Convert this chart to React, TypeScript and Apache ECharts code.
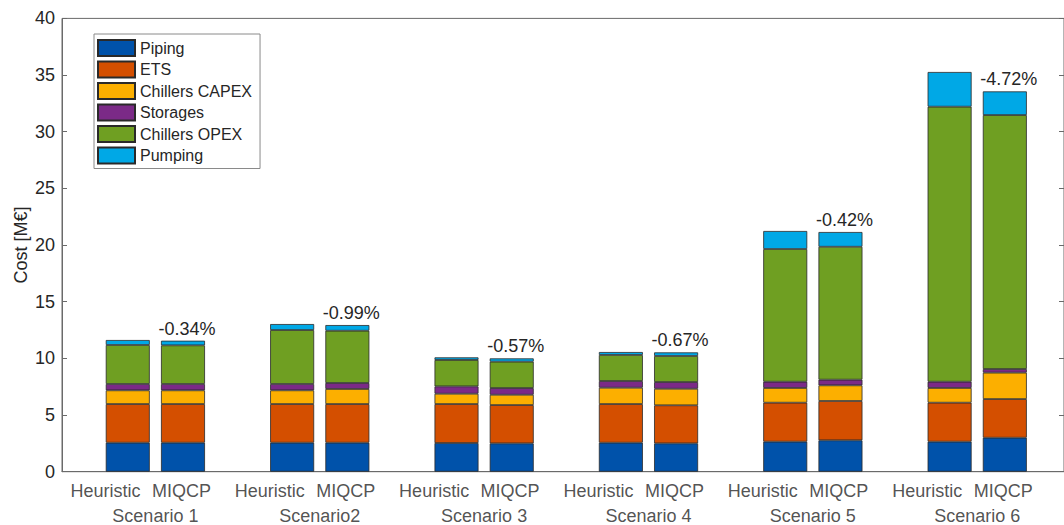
import React, { useEffect, useRef } from 'react';
import * as echarts from 'echarts';

// ---- data ----
const scenarios = ['Scenario 1', 'Scenario2', 'Scenario 3', 'Scenario 4', 'Scenario 5', 'Scenario 6'];
const methods = ['Heuristic', 'MIQCP'];
const components = ['Piping', 'ETS', 'Chillers CAPEX', 'Storages', 'Chillers OPEX', 'Pumping'];

// Heuristic values per scenario [M€]
const pipingH = [2.56, 2.56, 2.53, 2.56, 2.65, 2.65];
const etsH = [3.41, 3.41, 3.44, 3.41, 3.44, 3.44];
const capexH = [1.21, 1.21, 0.91, 1.44, 1.30, 1.30];
const storagesH = [0.56, 0.56, 0.65, 0.59, 0.55, 0.55];
const opexH = [3.44, 4.76, 2.33, 2.30, 11.71, 24.27];
const pumpingH = [0.44, 0.53, 0.23, 0.26, 1.59, 3.06];

// MIQCP values per scenario [M€]
const pipingM = [2.56, 2.56, 2.50, 2.50, 2.77, 3.00];
const etsM = [3.41, 3.41, 3.38, 3.36, 3.47, 3.41];
const capexM = [1.21, 1.33, 0.91, 1.46, 1.38, 2.33];
const storagesM = [0.56, 0.53, 0.59, 0.59, 0.50, 0.32];
const opexM = [3.41, 4.61, 2.33, 2.30, 11.73, 22.41];
const pumpingM = [0.41, 0.50, 0.29, 0.32, 1.30, 2.09];

const diffLabels = ['-0.34%', '-0.99%', '-0.57%', '-0.67%', '-0.42%', '-4.72%'];

const yMin = 0;
const yMax = 40;
const yInterval = 5;

// ---- style ----
const colors = ['#0052AA', '#D44F00', '#FCAF00', '#7B2A87', '#6F9F22', '#00A8E6'];
const FONT = 'Liberation Sans, Arial, Helvetica, sans-serif';
const TEXT = '#262626';
const AXIS = '#6a6a6a';
const HEUR_LABEL_DX = -50; // px from group centre
const MIQCP_LABEL_DX = 26;

export default function App() {
  const ref = useRef<HTMLDivElement>(null);

  useEffect(() => {
    if (!ref.current) return;
    const chart = echarts.init(ref.current, undefined, { renderer: 'svg' });

    const hVals = [pipingH, etsH, capexH, storagesH, opexH, pumpingH];
    const mVals = [pipingM, etsM, capexM, storagesM, opexM, pumpingM];

    const mkBar = (name: string, k: number, vals: number[], stack: string, withLabels: boolean) => ({
      name,
      type: 'bar',
      stack,
      xAxisIndex: 1,
      yAxisIndex: 2,
      barWidth: 44,
      barGap: '25.5%',
      data: vals.map((v, i) =>
        withLabels
          ? {
              value: v,
              label: {
                show: true,
                position: 'top',
                distance: 3,
                offset: [4, 0],
                formatter: diffLabels[i],
                fontSize: 18,
                fontFamily: FONT,
                color: TEXT,
              },
            }
          : v
      ),
      itemStyle: { color: colors[k], borderColor: '#2a2a2a', borderWidth: 0.8 },
      emphasis: { disabled: true },
    });

    const barSeries: any[] = [];
    components.forEach((name, k) => barSeries.push(mkBar(name, k, hVals[k], 'heuristic', false)));
    components.forEach((name, k) =>
      barSeries.push(mkBar(name, k, mVals[k], 'miqcp', k === components.length - 1))
    );

    const labelData: any[] = [];
    scenarios.forEach((s, i) => {
      labelData.push({ value: [i, 0], name: methods[0], label: { offset: [HEUR_LABEL_DX, 19.5] } });
      labelData.push({ value: [i, 0], name: methods[1], label: { offset: [MIQCP_LABEL_DX, 19.5] } });
      labelData.push({ value: [i, 0], name: s, label: { offset: [0, 44.5] } });
    });

    const labelSeries = {
      name: 'xlabels',
      type: 'scatter',
      xAxisIndex: 1,
      yAxisIndex: 2,
      symbolSize: 1,
      itemStyle: { color: 'rgba(0,0,0,0)' },
      silent: true,
      clip: false,
      data: labelData,
      label: {
        show: true,
        position: 'inside',
        formatter: (p: any) => p.name,
        fontSize: 18,
        fontFamily: FONT,
        color: TEXT,
        align: 'center',
        verticalAlign: 'middle',
      },
      z: 10,
    };

    const gridTop = 18.4;
    const gridBottom = 53.3;

    chart.setOption({
      animation: false,
      textStyle: { fontFamily: FONT },
      grid: [
        {
          left: 62,
          right: -4,
          top: gridTop,
          bottom: gridBottom,
          show: true,
          borderColor: AXIS,
          borderWidth: 1,
          backgroundColor: '#fff',
        },
        {
          left: 73.2,
          right: 4.6,
          top: gridTop,
          bottom: gridBottom,
        },
      ],
      legend: {
        data: components,
        orient: 'vertical',
        left: 94,
        top: 34,
        itemWidth: 37,
        itemHeight: 16,
        itemGap: 3.5,
        padding: [5, 8, 4, 3],
        icon: 'rect',
        borderColor: '#8a8a8a',
        borderWidth: 1,
        backgroundColor: '#fff',
        selectedMode: false,
        textStyle: { fontSize: 16, color: TEXT, fontFamily: FONT, lineHeight: 16 },
        z: 20,
      },
      xAxis: [
        {
          type: 'value',
          gridIndex: 0,
          min: 0,
          max: 1,
          axisLabel: { show: false },
          axisTick: { show: false },
          splitLine: { show: false },
          axisLine: { show: true, lineStyle: { color: AXIS } },
        },
        {
          type: 'category',
          gridIndex: 1,
          data: scenarios,
          axisLabel: { show: false },
          axisTick: { show: false },
          splitLine: { show: false },
          axisLine: { show: false },
        },
      ],
      yAxis: [
        {
          type: 'value',
          gridIndex: 0,
          min: yMin,
          max: yMax,
          interval: yInterval,
          name: 'Cost [M€]',
          nameLocation: 'middle',
          nameGap: 32,
          nameMoveOverlap: false,
          nameTextStyle: { fontSize: 18, color: TEXT, fontFamily: FONT },
          axisLabel: { fontSize: 18, color: TEXT, margin: 7, fontFamily: FONT },
          axisTick: { show: true, inside: true, length: 5, lineStyle: { color: AXIS } },
          axisLine: { show: true, lineStyle: { color: AXIS } },
          splitLine: { show: false },
        },
        {
          type: 'value',
          gridIndex: 0,
          position: 'right',
          min: yMin,
          max: yMax,
          interval: yInterval,
          axisLabel: { show: false },
          axisTick: { show: true, inside: true, length: 5, lineStyle: { color: AXIS } },
          axisLine: { show: true, lineStyle: { color: AXIS } },
          splitLine: { show: false },
        },
        {
          type: 'value',
          gridIndex: 1,
          min: yMin,
          max: yMax,
          interval: yInterval,
          show: false,
        },
      ],
      series: [...barSeries, labelSeries],
    });

    return () => chart.dispose();
  }, []);

  return (
    <div
      ref={ref}
      style={{ position: 'fixed', left: 0, top: 0, width: 1064, height: 525, background: '#fff' }}
    />
  );
}
